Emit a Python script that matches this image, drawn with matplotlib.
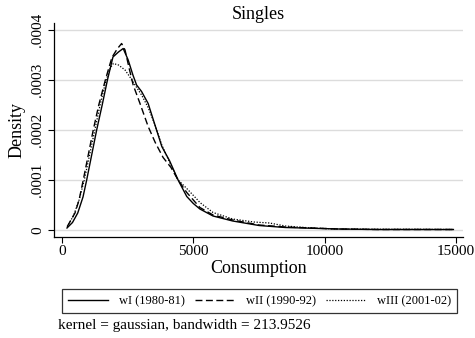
import matplotlib
matplotlib.use("Agg")
import matplotlib.pyplot as plt
from matplotlib.ticker import FuncFormatter

plt.rcParams['font.family'] = ['Liberation Serif', 'DejaVu Serif']

# Data (density values in units of 1e-4)
x_w1 = [190, 400, 600, 800, 940, 1130, 1320, 1530, 1730, 1940, 2150, 2330, 2520, 2700, 2840,
        3030, 3280, 3540, 3800, 4100, 4420, 4750, 5000, 5250, 5750, 6500, 7500, 8500, 9500,
        10500, 12000, 13500, 14900]
d_w1 = [0.04, 0.15, 0.34, 0.66, 1.0, 1.5, 2.0, 2.5, 3.0, 3.46, 3.56, 3.63, 3.40, 3.1, 2.9,
        2.77, 2.53, 2.1, 1.67, 1.38, 1.0, 0.67, 0.53, 0.42, 0.28, 0.18, 0.09, 0.05, 0.035,
        0.02, 0.01, 0.01, 0.01]

x_w2 = [200, 495, 650, 810, 1000, 1190, 1400, 1650, 1900, 2100, 2270, 2400, 2550, 2710, 2970,
        3280, 3550, 3850, 4150, 4420, 4750, 5250, 5750, 6500, 7500, 8500, 9500, 10500, 12000,
        13500, 14900]
d_w2 = [0.07, 0.34, 0.6, 1.0, 1.5, 2.0, 2.5, 3.0, 3.45, 3.62, 3.73, 3.6, 3.25, 2.9, 2.53,
        2.07, 1.75, 1.45, 1.25, 1.0, 0.75, 0.45, 0.3, 0.2, 0.1, 0.06, 0.04, 0.02, 0.01,
        0.01, 0.01]

x_w3 = [200, 450, 650, 850, 1050, 1250, 1450, 1680, 1850, 1955, 2150, 2400, 2600, 2780, 3030,
        3280, 3540, 3800, 4100, 4420, 4750, 5130, 5250, 5750, 6500, 7300, 7900, 8500, 9500,
        10500, 12000, 13500, 14900]
d_w3 = [0.06, 0.3, 0.6, 1.0, 1.5, 2.0, 2.5, 3.0, 3.25, 3.33, 3.30, 3.2, 3.05, 2.9, 2.7,
        2.45, 2.1, 1.7, 1.35, 1.0, 0.83, 0.62, 0.55, 0.35, 0.22, 0.16, 0.14, 0.08, 0.04,
        0.02, 0.015, 0.015, 0.01]

labels = ["wI (1980-81)", "wII (1990-92)", "wIII (2001-02)"]
y_ticks = [0, 0.0001, 0.0002, 0.0003, 0.0004]
x_ticks = [0, 5000, 10000, 15000]

fig = plt.figure(figsize=(4.75, 3.38), dpi=100)
ax = fig.add_axes([54/475, 1-237/338, (463-54)/475, (237-23)/338])

scale = 1e-4
ax.plot(x_w1, [v*scale for v in d_w1], color='black', lw=1.0, ls='-', label=labels[0])
ax.plot(x_w2, [v*scale for v in d_w2], color='black', lw=1.0, ls=(0, (5, 2.5)), label=labels[1])
ax.plot(x_w3, [v*scale for v in d_w3], color='black', lw=0.9, ls=(0, (1.0, 1.3)), label=labels[2])

ax.set_xlim(-304, 15266)
ax.set_ylim(-0.000014, 0.000414)
ax.set_xticks(x_ticks)
ax.set_yticks(y_ticks)

def yfmt(v, pos):
    if abs(v) < 1e-12:
        return "0"
    return ("%.4f" % v).lstrip("0")
ax.yaxis.set_major_formatter(FuncFormatter(yfmt))
ax.xaxis.set_major_formatter(FuncFormatter(lambda v, p: "%d" % v))

for lab in ax.get_yticklabels():
    lab.set_rotation(90)
    lab.set_va('center')
ax.tick_params(axis='both', direction='out', length=4, width=0.8, labelsize=11, pad=2)
ax.tick_params(axis='y', pad=3)

ax.grid(axis='y', color='#dcdcdc', lw=1.0)
ax.set_axisbelow(True)
for s in ['top', 'right']:
    ax.spines[s].set_visible(False)
for s in ['left', 'bottom']:
    ax.spines[s].set_linewidth(0.9)

ax.set_title("Singles", fontsize=13, pad=3)
ax.set_ylabel("Density", fontsize=13, labelpad=4)
ax.set_xlabel("Consumption", fontsize=13, labelpad=1)

leg = fig.legend(loc='center', bbox_to_anchor=((59+460)/2/475, 1-301/338), ncol=3,
                 fontsize=9, frameon=True, fancybox=False, edgecolor='black',
                 handlelength=3.2, columnspacing=0.8, handletextpad=0.9,
                 borderpad=0.45, borderaxespad=0)
leg.get_frame().set_linewidth(0.9)

fig.text(58/475, 1-326/338, "kernel = gaussian, bandwidth = 213.9526", fontsize=11,
         ha='left', va='center')

fig.savefig("out.png", dpi=100)
